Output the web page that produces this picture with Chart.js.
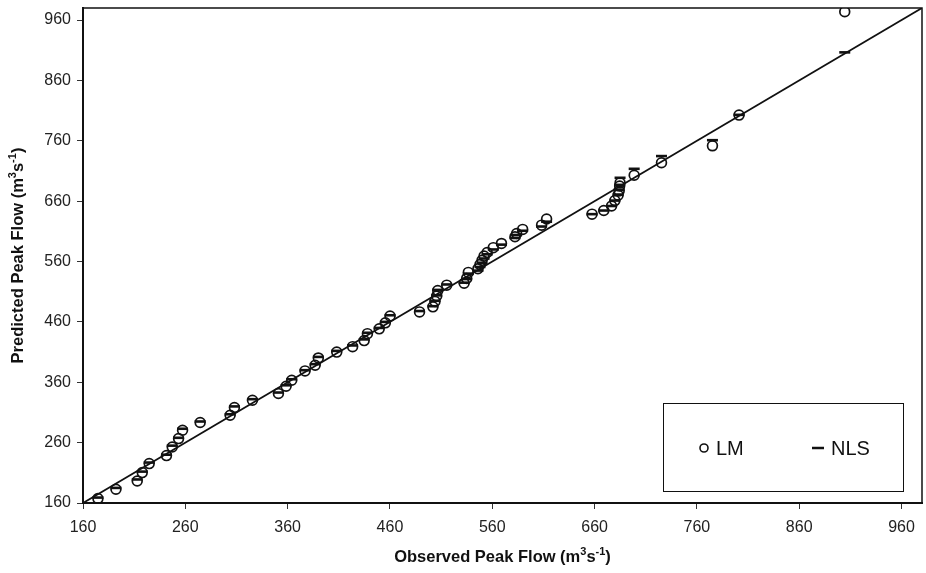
<!DOCTYPE html>
<html>
<head>
<meta charset="utf-8">
<script src="https://cdn.jsdelivr.net/npm/chart.js@4.4.1/dist/chart.umd.min.js"></script>
<style>
  html, body { margin: 0; padding: 0; background: #fff; }
  #wrap { width: 926px; height: 573px; }
</style>
</head>
<body>
<div id="wrap"><canvas id="peakChart"></canvas></div>
<script>
// observed peak flow (x) and predicted values for both fits
const observed = [174.6, 192.2, 213, 217.9, 224.7, 241.6, 247.2, 253.4, 257.3, 274.5,
    303.8, 308, 325.6, 351, 358.5, 364, 377, 386.9, 390, 408,
    423.5, 434.8, 438, 449.5, 455.5, 460.1, 488.9, 502, 504, 505.7,
    506.7, 515.5, 532.5, 535, 536.6, 546, 548, 550, 552, 555,
    561, 569, 582.2, 583.8, 589.7, 608.2, 613.1, 657.5, 669, 676.6,
    679.8, 683, 684, 684.5, 684.9, 698.7, 725.4, 775.2, 801.2, 904.5];
const predictedLM = [167.3, 182.7, 196.5, 210.4, 225.3, 238.5, 252.8, 266.7, 280.5, 293.3,
    305.4, 318.1, 330.2, 341.3, 353.4, 363.4, 378.8, 388.2, 400.3, 410,
    419, 429, 440.5, 448.5, 458.4, 469.8, 476.6, 484.9, 494, 503,
    512, 520.9, 524, 532, 542, 548, 555, 562, 569, 575,
    583, 590, 601, 606.5, 613.2, 620.3, 630.5, 638.5, 644.5, 652,
    661, 670, 677, 685, 690.4, 703, 723.6, 751.7, 802.6, 973.9];
const predictedNLS = [169, 185, 199, 212, 227, 240, 255, 268, 283, 295,
    307, 320, 332, 343, 355, 365, 380, 390, 402, 412,
    421, 431, 442, 450, 460, 471, 478, 486, 495, 504,
    513, 522, 525, 531, 540, 545, 551, 558, 565, 572,
    580, 588, 599, 604, 611, 618, 626, 638.5, 644.5, 652,
    661, 671, 679, 687, 698.7, 713.6, 734.7, 761, 803, 906.5];
const lineEnds = [160, 980];
const tickValues = [160, 260, 360, 460, 560, 660, 760, 860, 960];

const FONT = "'Liberation Sans', Arial, sans-serif";

function toPoints(xs, ys) {
    return xs.map((x, i) => ({ x: x, y: ys[i] }));
}

// frame, axis titles and legend box
const decorPlugin = {
    id: 'decor',
    afterDraw(chart) {
        const c = chart.ctx;
        const a = chart.chartArea;
        c.save();
        c.strokeStyle = '#111';
        c.lineWidth = 1.5;
        c.beginPath();
        c.moveTo(a.left, a.top);
        c.lineTo(a.right, a.top);
        c.lineTo(a.right, a.bottom);
        c.stroke();

        // axis titles with superscripts
        const drawTitle = (cx, cy, rot, first) => {
            c.save();
            c.translate(cx, cy);
            c.rotate(rot);
            c.fillStyle = '#111';
            c.textBaseline = 'alphabetic';
            const parts = [
                [first, 0],
                ['3', 1],
                ['s', 0],
                ['-1', 1],
                [')', 0]
            ];
            let w = 0;
            parts.forEach(p => {
                c.font = 'bold ' + (p[1] ? 11 : 16.5) + 'px ' + FONT;
                w += c.measureText(p[0]).width;
            });
            let x = -w / 2;
            parts.forEach(p => {
                c.font = 'bold ' + (p[1] ? 11 : 16.5) + 'px ' + FONT;
                c.fillText(p[0], x, p[1] ? -1 : 6);
                x += c.measureText(p[0]).width;
            });
            c.restore();
        };
        drawTitle((a.left + a.right) / 2, 556, 0, 'Observed Peak Flow (m');
        drawTitle(17, (a.top + a.bottom) / 2, -Math.PI / 2, 'Predicted Peak Flow (m');

        // legend
        const bx = a.right - 259, by = a.bottom - 100, bw = 240, bh = 88;
        c.lineWidth = 1;
        c.strokeStyle = '#111';
        c.strokeRect(bx + 0.5, by + 0.5, bw, bh);
        c.font = '20px ' + FONT;
        c.fillStyle = '#111';
        c.textBaseline = 'alphabetic';
        c.beginPath();
        c.lineWidth = 1.6;
        c.arc(bx + 41, by + 45, 4, 0, Math.PI * 2);
        c.stroke();
        c.fillText('LM', bx + 53, by + 52);
        c.lineWidth = 2.5;
        c.beginPath();
        c.moveTo(bx + 149, by + 45);
        c.lineTo(bx + 161, by + 45);
        c.stroke();
        c.fillText('NLS', bx + 168, by + 52);
        c.restore();
    }
};

function axisOptions(extra) {
    return Object.assign({
        type: 'linear',
        min: lineEnds[0],
        max: lineEnds[1],
        afterBuildTicks: (scale) => {
            scale.ticks = tickValues.map(v => ({ value: v }));
        },
        grid: {
            display: true,
            drawOnChartArea: false,
            drawTicks: true,
            tickLength: 6,
            color: '#333',
            lineWidth: 1
        },
        border: { display: true, color: '#111', width: 2 }
    }, extra);
}

function createPeakFlowChart() {
    const ctx = document.getElementById('peakChart');
    if (!ctx) return;

    new Chart(ctx, {
        type: 'scatter',
        data: {
            datasets: [
                {
                    label: '1:1',
                    data: toPoints(lineEnds, lineEnds),
                    showLine: true,
                    borderColor: '#111',
                    borderWidth: 1.8,
                    pointRadius: 0,
                    order: 3
                },
                {
                    label: 'LM',
                    data: toPoints(observed, predictedLM),
                    pointStyle: 'circle',
                    pointRadius: 4.9,
                    borderColor: '#111',
                    backgroundColor: 'rgba(0,0,0,0)',
                    pointBorderWidth: 1.7,
                    order: 2
                },
                {
                    label: 'NLS',
                    data: toPoints(observed, predictedNLS),
                    pointStyle: 'line',
                    pointRadius: 5.5,
                    borderColor: '#111',
                    pointBorderWidth: 2.6,
                    order: 1
                }
            ]
        },
        options: {
            responsive: false,
            animation: false,
            layout: { autoPadding: false, padding: { top: 8, right: 4, left: 0, bottom: 0 } },
            plugins: {
                legend: { display: false },
                tooltip: { enabled: false },
                title: { display: false }
            },
            scales: {
                x: axisOptions({
                    position: 'bottom',
                    afterFit: (scale) => {
                        scale.height = 70;
                        scale.paddingLeft = 0;
                        scale.paddingRight = 0;
                    },
                    ticks: {
                        color: '#222',
                        font: { family: FONT, size: 16 },
                        autoSkip: false,
                        maxRotation: 0,
                        padding: 9
                    }
                }),
                y: axisOptions({
                    position: 'left',
                    afterFit: (scale) => {
                        scale.width = 83;
                        scale.paddingTop = 0;
                        scale.paddingBottom = 0;
                    },
                    ticks: {
                        color: '#222',
                        font: { family: FONT, size: 16 },
                        autoSkip: false,
                        padding: 6
                    }
                })
            }
        },
        plugins: [decorPlugin]
    });
}

document.addEventListener('DOMContentLoaded', () => {
    const cv = document.getElementById('peakChart');
    cv.width = 926;
    cv.height = 573;
    createPeakFlowChart();
});
</script>
</body>
</html>
